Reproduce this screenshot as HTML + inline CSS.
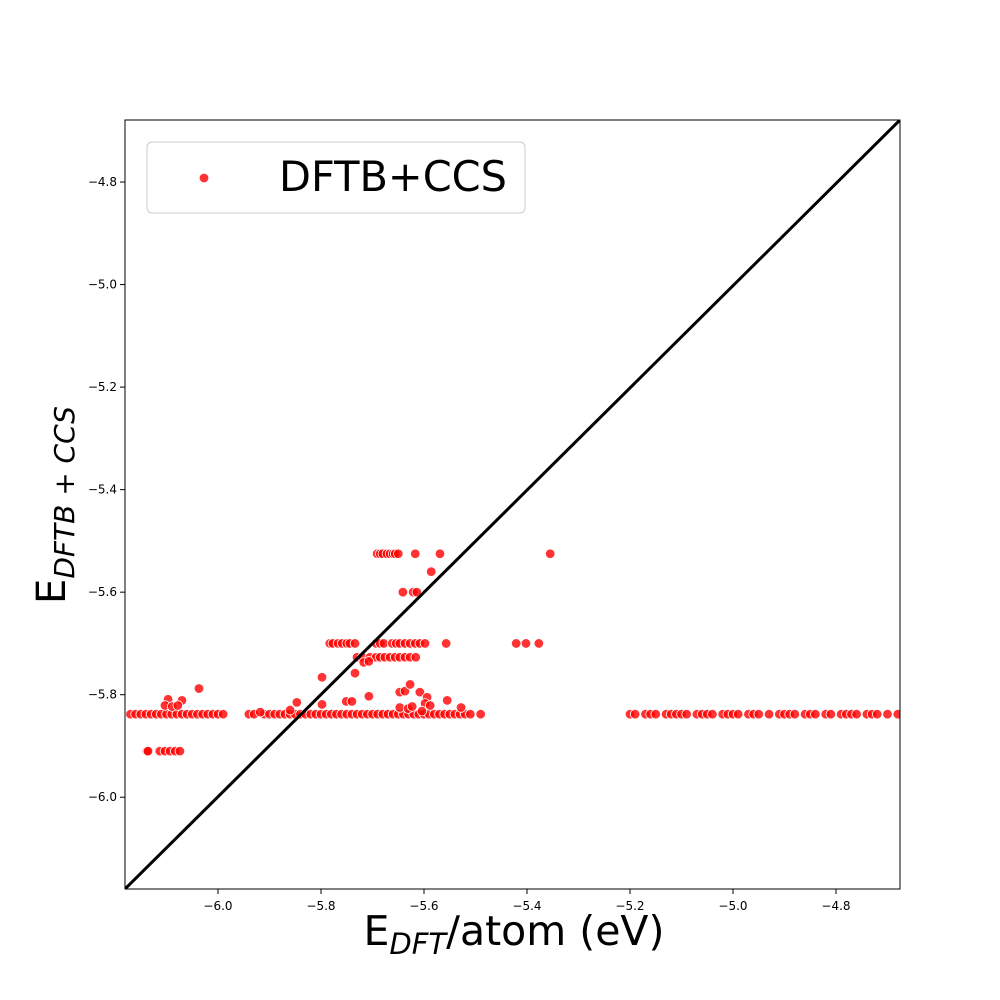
<!DOCTYPE html>
<html><head><meta charset="utf-8"><style>
html,body{margin:0;padding:0;background:#fff;}
svg{display:block;font-family:"DejaVu Sans","Liberation Sans",sans-serif;}
</style></head><body>
<svg id="chart" width="1000" height="1000"></svg>
<script>
const xTicks=[-6.0,-5.8,-5.6,-5.4,-5.2,-5.0,-4.8];
const yTicks=[-4.8,-5.0,-5.2,-5.4,-5.6,-5.8,-6.0];
const xBase=[-6.17,-6.16,-6.15,-6.14,-6.13,-6.12,-6.11,-6.10,-6.09,-6.08,-6.07,-6.06,-6.05,-6.04,-6.03,-6.02,-6.01,-6.00,-5.99,-5.94,-5.93,-5.91,-5.90,-5.89,-5.88,-5.87,-5.86,-5.85,-5.84,-5.83,-5.82,-5.81,-5.80,-5.79,-5.78,-5.77,-5.76,-5.75,-5.74,-5.73,-5.72,-5.71,-5.70,-5.69,-5.68,-5.67,-5.66,-5.65,-5.64,-5.63,-5.62,-5.61,-5.60,-5.59,-5.58,-5.57,-5.56,-5.55,-5.54,-5.53,-5.52,-5.51,-5.49,-5.20,-5.19,-5.17,-5.16,-5.15,-5.13,-5.12,-5.11,-5.10,-5.09,-5.07,-5.06,-5.05,-5.04,-5.02,-5.01,-5.00,-4.99,-4.97,-4.96,-4.95,-4.93,-4.91,-4.90,-4.89,-4.88,-4.86,-4.85,-4.84,-4.82,-4.81,-4.79,-4.78,-4.77,-4.76,-4.74,-4.73,-4.72,-4.70,-4.68];
const yBase=-5.838;
const xRow591=[-6.138,-6.136,-6.113,-6.103,-6.093,-6.083,-6.074];
const xRow5525=[-5.691,-5.685,-5.680,-5.672,-5.666,-5.660,-5.656,-5.650,-5.617,-5.569,-5.355];
const xRow57=[-5.783,-5.777,-5.767,-5.759,-5.750,-5.744,-5.734,-5.693,-5.685,-5.678,-5.662,-5.654,-5.647,-5.637,-5.627,-5.617,-5.608,-5.598,-5.557,-5.421,-5.402,-5.377];
const xRow5727=[-5.730,-5.720,-5.705,-5.693,-5.685,-5.676,-5.666,-5.656,-5.647,-5.637,-5.627,-5.616];
const xRow56=[-5.641,-5.621,-5.614];
const xOther=[-5.586,-5.798,-5.734,-5.717,-5.707,-5.647,-5.637,-5.627,-5.608,-5.594,-5.555,-5.528,-5.847,-5.798,-5.751,-5.740,-5.707,-6.097,-6.070,-6.037,-6.103,-6.089,-6.078,-5.598,-5.588,-5.604,-5.647,-5.631,-5.623,-5.860,-5.918];
const yOther=[-5.560,-5.766,-5.758,-5.737,-5.735,-5.795,-5.793,-5.780,-5.795,-5.805,-5.811,-5.825,-5.815,-5.819,-5.813,-5.813,-5.803,-5.809,-5.811,-5.788,-5.821,-5.823,-5.821,-5.817,-5.821,-5.832,-5.825,-5.827,-5.823,-5.830,-5.834];

const NS="http://www.w3.org/2000/svg";
const svg=document.getElementById('chart');
const L=125,R=900,T=120,B=889;
const xMin=-6.1806,xMax=-4.6757,yMin=-6.179,yMax=-4.679;
const sx=v=>L+(v-xMin)/(xMax-xMin)*(R-L);
const sy=v=>B-(v-yMin)/(yMax-yMin)*(B-T);
function mk(tag,attrs,parent){const e=document.createElementNS(NS,tag);for(const k in attrs)e.setAttribute(k,attrs[k]);(parent||svg).appendChild(e);return e;}

const clip=mk('clipPath',{id:'pc'});mk('rect',{x:L,y:T,width:R-L,height:B-T},clip);
const pts=mk('g',{'clip-path':'url(#pc)'});


function dot(x,y){const c=mk('circle',{cx:sx(x),cy:sy(y),r:4.8,fill:'#ff0000','fill-opacity':0.8,stroke:'#fff','stroke-width':0.8},pts);

}
xBase.forEach(x=>dot(x,yBase));
xRow591.forEach(x=>dot(x,-5.91));
xRow5525.forEach(x=>dot(x,-5.525));
xRow57.forEach(x=>dot(x,-5.70));
xRow5727.forEach(x=>dot(x,-5.727));
xRow56.forEach(x=>dot(x,-5.60));
xOther.forEach((x,i)=>dot(x,yOther[i]));

const diag=mk('line',{x1:sx(xMin),y1:sy(yMin),x2:sx(xMax),y2:sy(yMax),stroke:'#000','stroke-width':3,'clip-path':'url(#pc)'});



const frame=mk('rect',{x:L,y:T,width:R-L,height:B-T,fill:'none',stroke:'#000','stroke-width':1});



xTicks.forEach(v=>{const x=sx(v);mk('line',{x1:x,y1:B,x2:x,y2:B+5,stroke:'#000'});
const t=mk('text',{x:x,y:B+21,'text-anchor':'middle','font-size':12});t.textContent='\u2212'+Math.abs(v).toFixed(1);

});
yTicks.forEach(v=>{const y=sy(v);mk('line',{x1:L,y1:y,x2:L-5,y2:y,stroke:'#000'});
const t=mk('text',{x:L-8,y:y+4,'text-anchor':'end','font-size':12});t.textContent='\u2212'+Math.abs(v).toFixed(1);

});

const lg=mk('g',{});


mk('rect',{x:147,y:142,width:378,height:71,rx:5,fill:'#fff','fill-opacity':0.8,stroke:'#ccc'},lg);
mk('circle',{cx:204,cy:178,r:4.8,fill:'#ff0000','fill-opacity':0.8,stroke:'#fff','stroke-width':0.8},lg);
const lt=mk('text',{x:279,y:191,'font-size':41.5},lg);lt.textContent='DFTB+CCS';


</script>
<div style="position:absolute;left:0;top:907px;width:1028px;text-align:center;font-family:'DejaVu Sans','Liberation Sans',sans-serif;font-size:41px;">E<sub style="font-size:29px;font-style:italic;">DFT</sub>/atom (eV)</div>
<div style="position:absolute;left:55px;top:505px;transform:translate(-50%,-50%) rotate(-90deg);white-space:nowrap;font-family:'DejaVu Sans','Liberation Sans',sans-serif;font-size:40px;">E<sub style="font-size:28px;font-style:italic;">DFTB + CCS</sub></div>
</body></html>
